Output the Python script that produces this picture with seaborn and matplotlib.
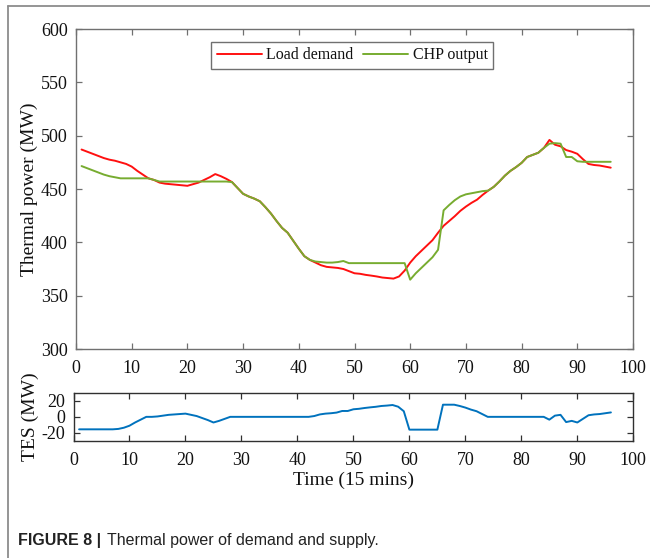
import numpy as np
import pandas as pd
import matplotlib
matplotlib.use("Agg")
import matplotlib.pyplot as plt
from matplotlib.lines import Line2D
import seaborn as sns

# ---- data ----
time = list(range(1, 97))
load_demand = [487, 485, 483, 481, 479, 477.5, 476.5, 475, 473.5, 471,
               467, 463.5, 460, 458.5, 456, 455, 454.5, 454, 453.5, 453,
               454.5, 456, 458.5, 461, 464, 462, 459.5, 456.5, 451, 445.5,
               443, 441, 438.5, 433, 427, 420, 413.5, 409, 401.5, 394,
               387, 383.5, 381, 378.5, 377, 376.5, 376, 375, 373, 371,
               370.5, 369.5, 368.8, 368, 367, 366.5, 366, 368, 373.5, 381,
               387, 392, 397, 402, 409, 415.5, 420, 424.5, 429.5, 433.5,
               437, 440, 444.5, 448.5, 452, 457, 462.5, 467, 470.5, 474.5,
               480, 482, 484, 488.5, 496, 491.5, 490, 486.5, 485, 483,
               478, 473.5, 472.5, 472, 471, 470]
chp_output = [471.5, 469.5, 467.5, 465.5, 463.5, 462, 461, 460, 460, 460,
              460, 460, 460, 458.5, 457, 457, 457, 457, 457, 457,
              457, 457, 457, 457, 457, 457, 457, 456.5, 451, 445.5,
              443, 441, 438.5, 433, 427, 420, 413.5, 409, 401.5, 394,
              387, 383.5, 382, 381.5, 381, 381, 381.5, 382.5, 380.5, 380.5,
              380.5, 380.5, 380.5, 380.5, 380.5, 380.5, 380.5, 380.5, 380.5, 365,
              371, 376, 381, 386, 393, 430, 435, 439.5, 443, 445,
              446, 447, 448, 448.5, 452, 457, 462.5, 467, 470.5, 474.5,
              480, 482, 484, 488.5, 492.5, 493, 492.5, 480, 480, 476,
              475.5, 475.5, 475.5, 475.5, 475.5, 475.5]
tes = [-15.5, -15.5, -15.5, -15.5, -15.5, -15.5, -15.5, -15, -13.5, -11,
       -7, -3.5, 0, 0, 0.5, 1.5, 2.5, 3, 3.5, 4,
       2.5, 1, -1.5, -4, -7, -5, -2.5, 0, 0, 0,
       0, 0, 0, 0, 0, 0, 0, 0, 0, 0,
       0, 0, 1, 3, 4, 4.5, 5.3, 7.3, 7.3, 9.4,
       10, 11, 11.8, 12.5, 13.5, 14, 14.7, 12.6, 7, -15.9,
       -15.9, -15.9, -15.9, -15.9, -15.9, 15.1, 15.1, 15.1, 13.5, 11.5,
       9, 7, 3.5, 0, 0, 0, 0, 0, 0, 0,
       0, 0, 0, 0, -3.5, 1.5, 2.5, -6.5, -5, -7,
       -2.5, 2, 3, 3.5, 4.5, 5.5]
series_names = ["Load demand", "CHP output"]
main_yticks = [300, 350, 400, 450, 500, 550, 600]
xticks = [0, 10, 20, 30, 40, 50, 60, 70, 80, 90, 100]
tes_yticks = [-20, 0, 20]

df = pd.DataFrame({
    "t": time * 2,
    "power": load_demand + chp_output,
    "series": [series_names[0]] * len(time) + [series_names[1]] * len(time),
})
df_tes = pd.DataFrame({"t": time, "tes": tes})

sns.set_style("ticks")
plt.rcParams["font.family"] = ["Liberation Serif", "DejaVu Serif"]
plt.rcParams["axes.unicode_minus"] = False
plt.rcParams["xtick.direction"] = "in"
plt.rcParams["ytick.direction"] = "in"

W, H = 650, 558
fig = plt.figure(figsize=(W / 100, H / 100), dpi=100)
fig.patch.set_facecolor("white")

def fx(px):
    return px / W

def fy(py):
    return 1 - py / H

ax = fig.add_axes([fx(76), fy(349), fx(633) - fx(76), fy(29) - fy(349)])
ax2 = fig.add_axes([fx(73.5), fy(441), fx(633.3) - fx(73.5), fy(392.7) - fy(441)])

palette = {"Load demand": "#ff1010", "CHP output": "#77ac30"}
sns.lineplot(data=df, x="t", y="power", hue="series", palette=palette,
             ax=ax, linewidth=1.4, legend=True)
sns.lineplot(data=df_tes, x="t", y="tes", ax=ax2, color="#0072bd", linewidth=1.4)

for a, sc in ((ax, "#707070"), (ax2, "#303030")):
    a.set_xlim(0, 100)
    a.set_xticks(xticks)
    for s in a.spines.values():
        s.set_visible(True)
        s.set_color(sc)
        s.set_linewidth(1.0)
    a.tick_params(axis="both", which="both", direction="in", top=True, right=True,
                  length=4, width=0.9, color=sc, labelsize=13, labelcolor="#111111")
    a.tick_params(axis="x", pad=8)
    a.tick_params(axis="y", pad=6)

ax.set_ylim(300, 600)
ax.set_yticks(main_yticks)
ax.set_xlabel("")
ax.set_ylabel("Thermal power (MW)", fontsize=14, color="#111111", labelpad=2)

ax2.set_ylim(-30, 30)
ax2.set_yticks(tes_yticks)
ax2.set_xlabel("Time (15 mins)", fontsize=14, color="#111111", labelpad=2)
ax2.set_ylabel("TES (MW)", fontsize=14, color="#111111", labelpad=2)

leg = ax.legend(loc="center", bbox_to_anchor=(0.496, 0.918), ncol=2,
                fontsize=11.5, frameon=True, fancybox=False, framealpha=1,
                edgecolor="#707070", handlelength=2.8, columnspacing=0.6,
                handletextpad=0.3, borderpad=0.35, borderaxespad=0)
leg.get_frame().set_linewidth(1.0)
for t_ in leg.get_texts():
    t_.set_color("#111111")

# panel frame lines (top and left)
fig.add_artist(Line2D([fx(8), 1], [fy(6), fy(6)], color="#8c8c8c", lw=1.3,
                      transform=fig.transFigure))
fig.add_artist(Line2D([fx(8), fx(8)], [fy(6), 0], color="#8c8c8c", lw=1.3,
                      transform=fig.transFigure))

# caption
fig.text(fx(18), fy(540), "FIGURE 8 |", fontsize=11.5, fontweight="bold",
         family=["Liberation Sans", "DejaVu Sans"], color="#222222", va="center", ha="left")
fig.text(fx(107), fy(540), "Thermal power of demand and supply.", fontsize=11.5,
         family=["Liberation Sans", "DejaVu Sans"], color="#222222", va="center", ha="left")

fig.savefig("out.png", dpi=100, facecolor="white")
